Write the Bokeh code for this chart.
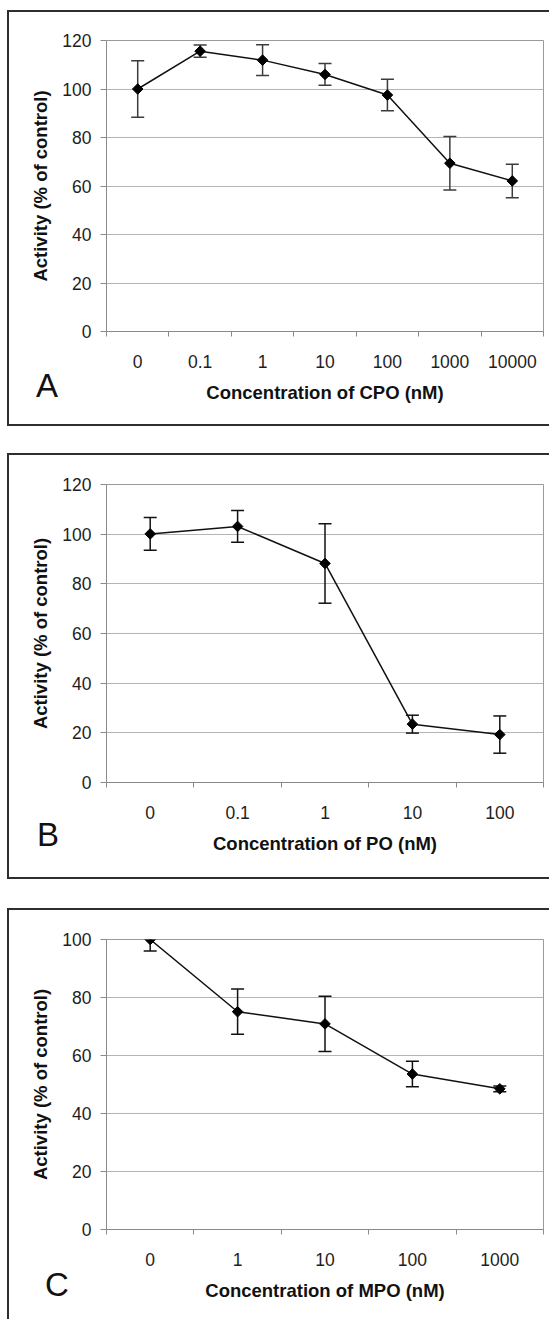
from bokeh.plotting import figure
from bokeh.layouts import GridBox
from bokeh.models import Range1d, FixedTicker, Div
from bokeh.embed import file_html
from bokeh.resources import INLINE

# ---- data ----
cpo_labels = ["0", "0.1", "1", "10", "100", "1000", "10000"]
cpo_activity = [100.0, 115.6, 111.9, 106.0, 97.5, 69.4, 62.1]
cpo_error = [11.6, 2.5, 6.3, 4.5, 6.5, 11.0, 6.9]

po_labels = ["0", "0.1", "1", "10", "100"]
po_activity = [100.1, 103.1, 88.2, 23.5, 19.3]
po_error = [6.6, 6.4, 16.0, 3.6, 7.5]

mpo_labels = ["0", "1", "10", "100", "1000"]
mpo_activity = [100.0, 75.1, 70.9, 53.6, 48.5]
mpo_error = [4.0, 7.8, 9.5, 4.4, 1.0]

y_title = "Activity (% of control)"
FONT = "Liberation Sans"
W = 549
FRAME_L, FRAME_R = 106, 543
BOX = "#2e2e2e"
CAP_PX = 6.5


def box_css(left, top, bottom):
    # panel frame drawn behind the (transparent) canvas: left, top and bottom rules
    g = f"linear-gradient({BOX},{BOX})"
    return {
        "background-color": "white",
        "background-image": f"{g}, {g}, {g}",
        "background-size": f"2px {bottom - top + 2}px, {W}px 2px, {W}px 2px",
        "background-position": f"{left}px {top}px, {left}px {top}px, {left}px {bottom}px",
        "background-repeat": "no-repeat",
    }


def panel(labels, act, err, xtitle, ymax, height, ftop, fbot, box_top, box_bot, bar_color):
    n = len(labels)
    xs = list(range(n))
    p = figure(width=W, height=height, output_backend="svg", toolbar_location=None,
               x_range=Range1d(-0.5, n - 0.5), y_range=Range1d(0, ymax),
               min_border_left=FRAME_L, min_border_right=W - FRAME_R,
               min_border_top=ftop, min_border_bottom=height - fbot,
               styles=box_css(7, box_top, box_bot))
    p.background_fill_color = "white"
    p.border_fill_color = None
    p.outline_line_color = "#9a9a9a"
    p.outline_line_width = 1

    p.xgrid.visible = False
    p.ygrid.ticker = FixedTicker(ticks=list(range(0, ymax + 1, 20)))
    p.ygrid.grid_line_color = "#b4b4b4"
    p.ygrid.grid_line_width = 1

    # x axis: category labels centred, tick marks between categories
    xa = p.xaxis[0]
    xa.ticker = FixedTicker(ticks=xs, minor_ticks=[i - 0.5 for i in range(n + 1)])
    xa.major_label_overrides = {i: lab for i, lab in enumerate(labels)}
    xa.major_tick_in = 0
    xa.major_tick_out = 0
    xa.minor_tick_in = 0
    xa.minor_tick_out = 5
    xa.minor_tick_line_color = "#8a8a8a"
    xa.axis_line_color = "#8a8a8a"
    xa.major_label_text_font = FONT
    xa.major_label_text_font_size = "17.5px"
    xa.major_label_text_color = "#1e1e1e"
    xa.major_label_standoff = 18
    xa.axis_label = xtitle
    xa.axis_label_text_font = FONT
    xa.axis_label_text_font_size = "18.5px"
    xa.axis_label_text_font_style = "bold"
    xa.axis_label_text_color = "#111111"
    xa.axis_label_standoff = 11

    ya = p.yaxis[0]
    ya.ticker = FixedTicker(ticks=list(range(0, ymax + 1, 20)))
    ya.major_tick_in = 0
    ya.major_tick_out = 6
    ya.minor_tick_out = 0
    ya.major_tick_line_color = "#8a8a8a"
    ya.axis_line_color = "#8a8a8a"
    ya.major_label_text_font = FONT
    ya.major_label_text_font_size = "17.5px"
    ya.major_label_text_color = "#1e1e1e"
    ya.major_label_standoff = 9
    ya.axis_label = y_title
    ya.axis_label_text_font = FONT
    ya.axis_label_text_font_size = "18.5px"
    ya.axis_label_text_font_style = "bold"
    ya.axis_label_text_color = "#111111"
    ya.axis_label_standoff = 8

    # error bars
    cap = CAP_PX * n / (FRAME_R - FRAME_L)
    lo = [a - e for a, e in zip(act, err)]
    hi = [a + e for a, e in zip(act, err)]
    p.segment(x0=xs, y0=lo, x1=xs, y1=hi, line_color=bar_color, line_width=1.5)
    p.segment(x0=[x - cap for x in xs], y0=lo, x1=[x + cap for x in xs], y1=lo,
              line_color=bar_color, line_width=1.5)
    p.segment(x0=[x - cap for x in xs], y0=hi, x1=[x + cap for x in xs], y1=hi,
              line_color=bar_color, line_width=1.5)

    # series
    p.line(xs, act, line_color="#111111", line_width=1.5)
    p.scatter(xs, act, marker="square", size=7.5, angle=0.785398,
              fill_color="#000000", line_color="#000000")
    return p


def letter_div(letter, height, left, top):
    # panel letter, laid over the bottom-left corner of its panel
    html = (f'<div style="padding:{top}px 0 0 {left}px; font-family:\'{FONT}\'; '
            f'font-size:33px; line-height:38px; color:#111111;">{letter}</div>')
    return Div(text=html, width=W, height=height, margin=0)


pa = panel(cpo_labels, cpo_activity, cpo_error, "Concentration of CPO (nM)",
           120, 440, 40, 331, 10, 424, "#3c3c3c")
pb = panel(po_labels, po_activity, po_error, "Concentration of PO (nM)",
           120, 453, 44, 342, 13, 437, "#111111")
pc = panel(mpo_labels, mpo_activity, mpo_error, "Concentration of MPO (nM)",
           100, 426, 46, 336, 15, 480, "#111111")

la = letter_div("A", 440, 36, 367)
lb = letter_div("B", 453, 37, 376)
lc = letter_div("C", 426, 45, 373)

layout = GridBox(children=[(pa, 0, 0), (la, 0, 0),
                           (pb, 1, 0), (lb, 1, 0),
                           (pc, 2, 0), (lc, 2, 0)], spacing=0)
open("out.html", "w").write(file_html(layout, INLINE))
